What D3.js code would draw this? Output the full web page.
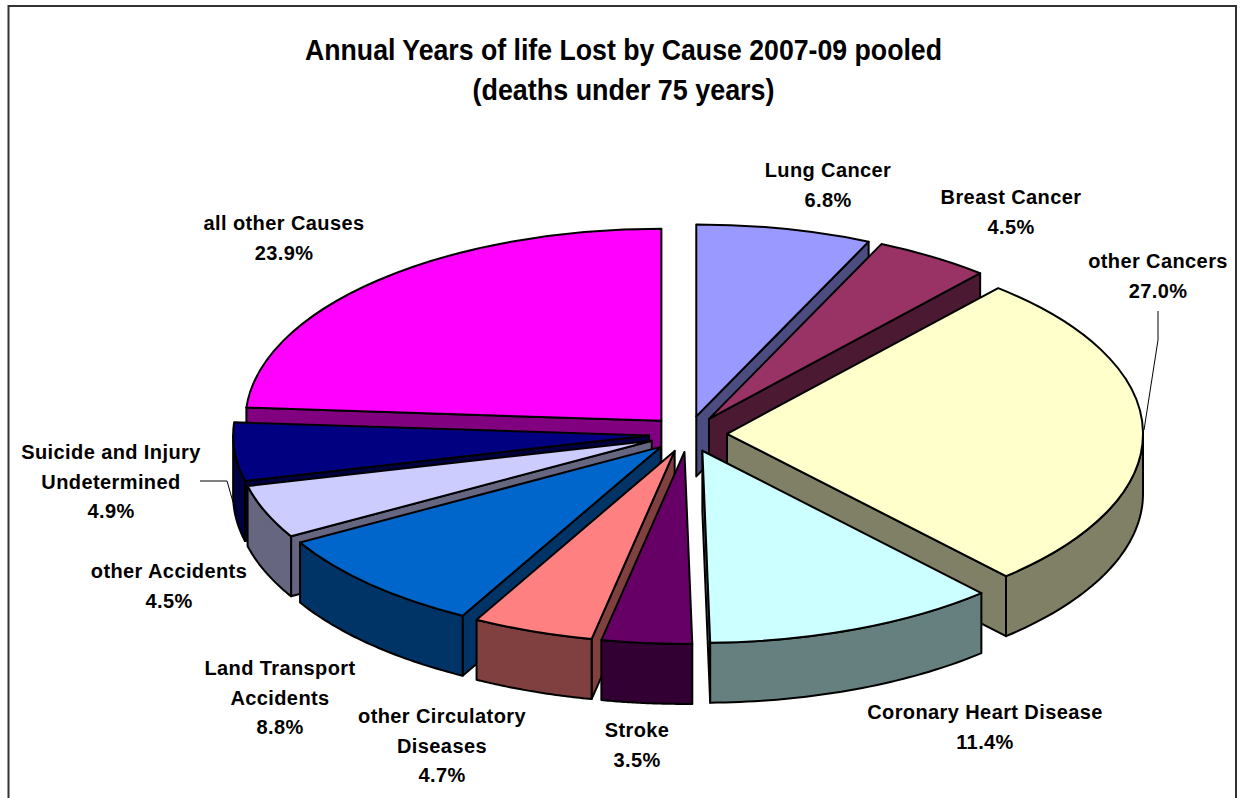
<!DOCTYPE html>
<html><head><meta charset="utf-8">
<script src="https://cdn.jsdelivr.net/npm/d3@7/dist/d3.min.js"></script>
<style>html,body{margin:0;padding:0;background:#fff}svg{display:block}
text{font-family:"Liberation Sans",Arial,sans-serif;font-weight:bold;fill:#000;text-anchor:middle}</style>
</head><body><svg id="c" width="1247" height="798"></svg>
<script>
const categories=["Lung Cancer","Breast Cancer","other Cancers","Coronary Heart Disease","Stroke","other Circulatory Diseases","Land Transport Accidents","other Accidents","Suicide and Injury Undetermined","all other Causes"];
const shares=[6.8,4.5,27.0,11.4,3.5,4.7,8.8,4.5,4.9,23.9];
const topColors=["#9999FF","#993366","#FFFFCC","#CCFFFF","#660066","#FF8080","#0066CC","#CCCCFF","#000080","#FF00FF"];
const wallColors=["#4C4C80","#4C1933","#808066","#668080","#330033","#804040","#003366","#666680","#000040","#800080"];
const titleLines=["Annual Years of life Lost by Cause 2007-09 pooled","(deaths under 75 years)"];
const labelLines=[["Lung Cancer","6.8%"],["Breast Cancer","4.5%"],["other Cancers","27.0%"],["Coronary Heart Disease","11.4%"],["Stroke","3.5%"],["other Circulatory","Diseases","4.7%"],["Land Transport","Accidents","8.8%"],["other Accidents","4.5%"],["Suicide and Injury","Undetermined","4.9%"],["all other Causes","23.9%"]];
const labelAnchors=[[828,177],[1011,204],[1158,268],[985,719],[637,737],[442,723],[280,675],[169,578],[111,459],[284,230]];

const W=1247,H=798,cx=688,cy=434,rx=416,ry=192,depth=60,explode=39;
const svg=d3.select("#c");
svg.append("rect").attr("x",8.5).attr("y",6).attr("width",1227.5).attr("height",H+10).attr("fill","#fff").attr("stroke","#333").attr("stroke-width",2);

const pie=d3.pie().sort(null).value(d=>d);
const arcs=pie(shares).map((d,i)=>{
  const mid=(d.startAngle+d.endAngle)/2;
  return {i,a0:d.startAngle,a1:d.endAngle,mid,ox:cx+explode*Math.sin(mid),oy:cy-explode*(ry/rx)*Math.cos(mid)};
});
const px=(s,a,f=1)=>s.ox+rx*f*Math.sin(a), py=(s,a,f=1)=>s.oy-ry*f*Math.cos(a);
const topArc=d3.arc().innerRadius(0).outerRadius(rx);
const outline={stroke:"#000","stroke-width":2,"stroke-linejoin":"round"};
function sty(sel,fill){sel.attr("fill",fill);Object.entries(outline).forEach(([k,v])=>sel.attr(k,v));return sel;}

const order=arcs.slice().sort((a,b)=>Math.cos(b.mid)-Math.cos(a.mid));
order.forEach(s=>{
  const g=svg.append("g");
  const visibleCuts=[];
  if(s.a0>Math.PI) visibleCuts.push(s.a0);
  if(s.a1<Math.PI) visibleCuts.push(s.a1);
  visibleCuts.forEach(a=>{
    const face=d3.area().x(f=>px(s,a,f)).y0(f=>py(s,a,f)).y1(f=>py(s,a,f)+depth);
    sty(g.append("path").attr("d",face([0,1])),wallColors[s.i]);
  });
  const lo=Math.max(s.a0,Math.PI/2),hi=Math.min(s.a1,3*Math.PI/2);
  if(hi>lo){
    const ang=d3.range(0,41).map(k=>lo+(hi-lo)*k/40);
    const rim=d3.area().x(a=>px(s,a)).y0(a=>py(s,a)).y1(a=>py(s,a)+depth);
    sty(g.append("path").attr("d",rim(ang)),wallColors[s.i]);
  }
  sty(g.append("path")
    .attr("transform",`translate(${s.ox},${s.oy}) scale(1,${ry/rx})`)
    .attr("vector-effect","non-scaling-stroke")
    .attr("d",topArc({startAngle:s.a0,endAngle:s.a1})),topColors[s.i]);
});

const leaders=[[[1158,311],[1158,340],[1144,430]],[[200,481],[227,481],[233,502]]];
const ll=d3.line();
leaders.forEach(p=>svg.append("path").attr("d",ll(p)).attr("fill","none").attr("stroke","#000").attr("stroke-width",1));

titleLines.forEach((t,i)=>svg.append("text").attr("x",623.5).attr("y",60+i*40).attr("font-size",29).attr("textLength",i?302:637).attr("lengthAdjust","spacingAndGlyphs").text(t));
labelLines.forEach((lines,i)=>{
  const [x,y]=labelAnchors[i];
  lines.forEach((t,k)=>svg.append("text").attr("x",x).attr("y",y+k*29.5).attr("font-size",20).attr("letter-spacing",0.4).text(t));
});
</script></body></html>
